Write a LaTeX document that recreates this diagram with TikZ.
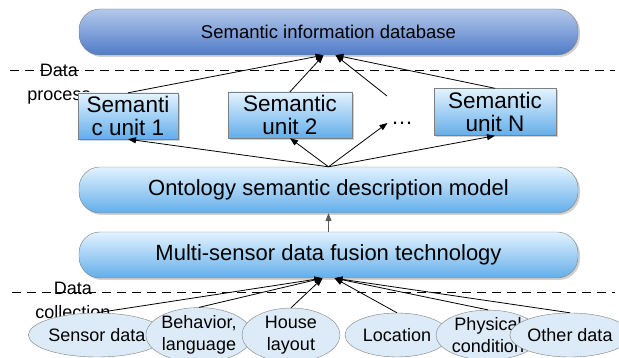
\documentclass[tikz,border=0pt]{standalone}
\usepackage{fontspec}
\setmainfont{Liberation Sans}
\usetikzlibrary{arrows.meta,shapes.geometric,shadows}

\definecolor{dbtop}{HTML}{B4C8EB}
\definecolor{dbbot}{HTML}{4F7BC6}
\definecolor{boxtop}{HTML}{E3F3FF}
\definecolor{boxbot}{HTML}{63AEEA}
\definecolor{ellfill}{HTML}{DDEBF8}
\definecolor{edgegray}{HTML}{7F7F7F}

\tikzset{
  softshadow/.style={drop shadow={shadow xshift=2pt, shadow yshift=-2pt, fill=black!30, opacity=0.6}},
  layerbox/.style={rounded corners=21pt, draw=edgegray, top color=boxtop, bottom color=boxbot,
    minimum width=499pt, minimum height=46pt, inner sep=0pt, font=\fontsize{22}{24}\selectfont, softshadow},
  unitbox/.style={rectangle, draw=edgegray, top color=boxtop, bottom color=boxbot, align=center,
    minimum height=46pt, inner sep=0pt, font=\fontsize{22.5}{23}\selectfont, softshadow},
  sourcebox/.style={ellipse, draw=edgegray, fill=ellfill, align=center, inner sep=0pt,
    minimum width=104pt, minimum height=44pt, font=\fontsize{18}{22}\selectfont},
  stagelabel/.style={align=center, inner sep=0pt, font=\fontsize{18}{24}\selectfont},
  flow/.style={line width=0.8pt, -{Triangle[length=8pt,width=6pt]}},
  divider/.style={dashed, line width=0.8pt, dash pattern=on 9pt off 6pt}
}

\begin{document}
\begin{tikzpicture}[x=1pt, y=-1pt]

  \useasboundingbox (0,0) rectangle (619,358);

  % Stage labels (drawn first, boxes sit on top of them)
  \node[stagelabel] (procLabel) at (59,84) {Data\\process};
  \node[stagelabel] (collLabel) at (73,300) {Data\\collection};

  % Stage dividers
  \coordinate (divTopL) at (10,70);
  \coordinate (divTopR) at (615,70);
  \coordinate (divBotL) at (12,292);
  \coordinate (divBotR) at (615,292);
  \draw[divider] (divTopL) -- (divTopR);
  \draw[divider] (divBotL) -- (divBotR);

  % Main layers
  \node[layerbox, top color=dbtop, bottom color=dbbot, font=\fontsize{18.5}{20}\selectfont] (db) at (328.5,32) {Semantic information database};
  \node[layerbox] (onto) at (328.5,190) {Ontology semantic description model};
  \node[layerbox] (fusion) at (328.5,255) {Multi-sensor data fusion technology};

  % Semantic units
  \node[unitbox, minimum width=100pt] (unit1) at (128,116) {Semanti\\c unit 1};
  \node[unitbox, minimum width=124pt] (unit2) at (290,115) {Semantic\\unit 2};
  \node[font=\fontsize{22}{24}\selectfont] (dots) at (402,123) {\dots};
  \node[unitbox, minimum width=122pt, minimum height=47pt] (unitN) at (495,112) {Semantic\\unit N};
  \coordinate (dotsTop) at (387,96);

  % Arrow meeting points
  \coordinate (dbL) at ([xshift=-5pt]db.south);
  \coordinate (dbR) at ([xshift=7pt]db.south);
  \coordinate (fuL) at ([xshift=-6pt]fusion.south);
  \coordinate (fuR) at ([xshift=6pt]fusion.south);

  % Ontology model -> semantic units
  \foreach \u in {unit1, unit2, unitN}
    \draw[flow] (onto.north) -- (\u.south);
  \draw[flow] (onto.north) -- (dots.west);

  % Semantic units -> database
  \draw[flow] (unit1.north) -- (dbL);
  \draw[flow] (unit2.north) -- (dbL);
  \draw[flow] (dotsTop) -- (dbR);
  \draw[flow] (unitN.north) -- (dbR);

  % Fusion -> ontology
  \draw[flow, draw=black!65, fill=black!65] (fusion.north) -- (onto.south);

  % Data sources (left to right, each one overlapping the previous)
  \node[sourcebox, minimum width=115pt] (src1) at (97,335) {Sensor data};
  \node[sourcebox] (src2) at (199,335) {Behavior,\\language};
  \node[sourcebox, minimum width=98pt] (src3) at (291,335) {House\\layout};
  \node[sourcebox] (src4) at (397,335) {Location};
  \node[sourcebox] (src5) at (488,335) {Physical\\condition};
  \node[sourcebox, minimum width=96pt] (src6) at (570,335) {Other data};

  % Data sources -> fusion
  \foreach \s in {src1, src2, src3}
    \draw[flow] (\s.north) -- (fuL);
  \foreach \s in {src4, src5, src6}
    \draw[flow] (\s.north) -- (fuR);

\end{tikzpicture}
\end{document}
